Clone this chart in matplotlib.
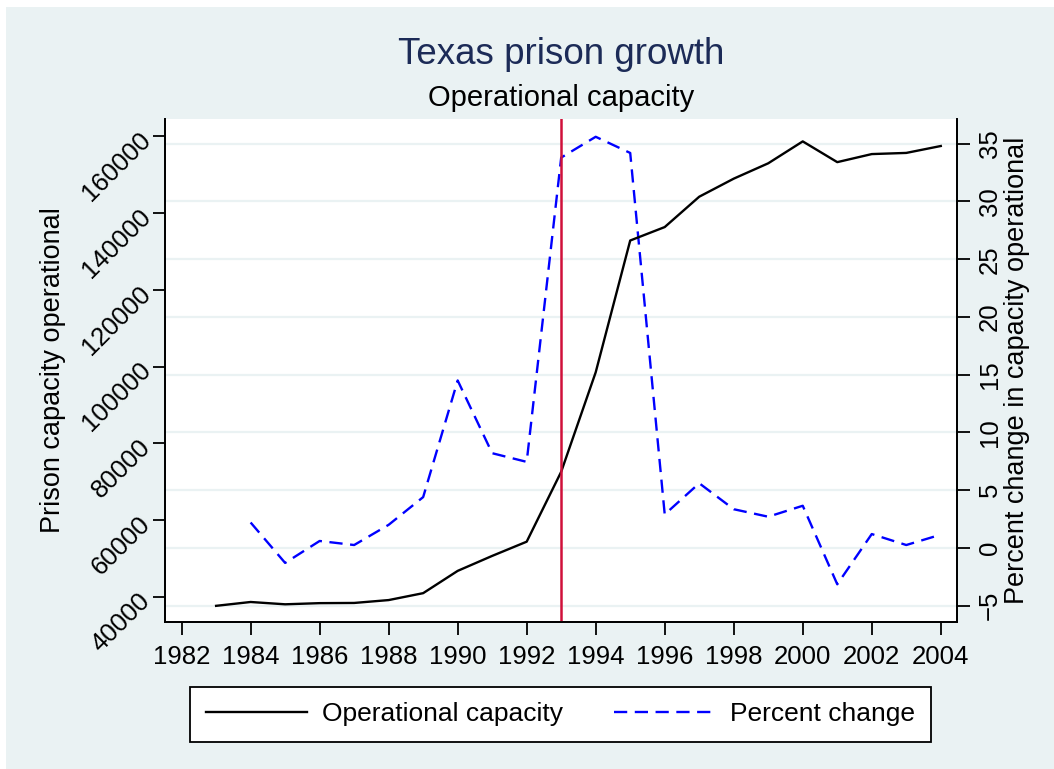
import numpy as np
import matplotlib
matplotlib.use('Agg')
import matplotlib.pyplot as plt
from matplotlib.patches import Rectangle

# values
YEARS = list(range(1983, 2005))
CAPACITY = [37700, 38700, 38100, 38400, 38450, 39200, 41000, 46800, 50700, 54400,
            72600, 98500, 132800, 136300, 144200, 148900, 152900, 158600, 153200,
            155300, 155600, 157400]
PCT_YEARS = list(range(1984, 2005))
PCT_CHANGE = [2.2, -1.3, 0.6, 0.25, 2.0, 4.4, 14.5, 8.2, 7.45, 33.8, 35.6, 34.2,
              2.9, 5.6, 3.35, 2.7, 3.65, -3.15, 1.2, 0.25, 1.15]
CUTOFF_YEAR = 1993

X_TICKS = list(range(1982, 2005, 2))
LEFT_TICKS = list(range(40000, 160001, 20000))
RIGHT_TICKS = list(range(-5, 36, 5))

BG = '#EAF2F3'
NAVY = '#1C2B57'

plt.rcParams.update({'font.family': ['Liberation Sans', 'DejaVu Sans']})

W, H = 1054, 769
fig = plt.figure(figsize=(W / 100, H / 100), dpi=100)
fig.patch.set_facecolor('white')
fig.patches.append(Rectangle((6 / W, 0), 1, 1 - 7 / H, transform=fig.transFigure,
                             facecolor=BG, edgecolor='none', zorder=-10))

rect = [164.7 / W, 1 - 621.7 / H, 792.3 / W, 502.7 / H]
ax2 = fig.add_axes(rect)          # right axis: grid, x axis, percent change
ax1 = ax2.twinx()                 # left axis drawn on top
ax1.yaxis.tick_left()
ax1.yaxis.set_label_position('left')
ax2.yaxis.tick_right()
ax2.yaxis.set_label_position('right')
ax1.set_zorder(ax2.get_zorder() + 1)
ax1.patch.set_visible(False)
ax2.set_facecolor('white')

ax2.plot(PCT_YEARS, PCT_CHANGE, color='#0000FF', lw=1.7, ls=(0, (5.6, 3.2)),
         label='Percent change')
ax1.plot(YEARS, CAPACITY, color='black', lw=1.7, label='Operational capacity')
ax1.axvline(CUTOFF_YEAR, color='#D0103A', lw=1.8)

ax2.set_xlim(1981.51, 2004.47)
ax1.set_ylim(33570, 164430)
ax2.set_ylim(-6.39, 37.14)

ax2.set_yticks(RIGHT_TICKS)
ax2.grid(axis='y', color=BG, lw=1.6)
ax2.set_axisbelow(True)
ax2.set_xticks(X_TICKS)
ax1.set_yticks(LEFT_TICKS)

for ax in (ax1, ax2):
    for s in ax.spines.values():
        s.set_linewidth(1.3)
    ax.spines['top'].set_visible(False)
    ax.tick_params(length=9, width=1.3, labelsize=18.5, colors='black')

ax2.tick_params(axis='x', pad=8)
ax1.tick_params(axis='y', pad=4)
plt.setp(ax1.get_yticklabels(), rotation=45, ha='right', va='center',
         rotation_mode='anchor')
ax2.tick_params(axis='y', pad=6)
plt.setp(ax2.get_yticklabels(), rotation=90, va='center', ha='left')

ax1.set_ylabel('Prison capacity operational', fontsize=19.5)
ax1.yaxis.set_label_coords(-0.124, 0.5)
ax2.set_ylabel('Percent change in capacity operational', fontsize=19.5)
ax2.yaxis.set_label_coords(1.0593, 0.5)

cx = (rect[0] + rect[2] / 2)
fig.text(cx, 1 - 55 / H, 'Texas prison growth', color=NAVY, fontsize=26.5,
         ha='center', va='center')
fig.text(cx, 1 - 98 / H, 'Operational capacity', color='black', fontsize=21,
         ha='center', va='center')

h1, l1 = ax1.get_legend_handles_labels()
h2, l2 = ax2.get_legend_handles_labels()
leg = fig.legend(h1 + h2, l1 + l2, loc='center', bbox_to_anchor=(560.5 / W, 1 - 714.5 / H),
                 ncol=2, fontsize=19, frameon=True, fancybox=False, edgecolor='black',
                 facecolor='white', framealpha=1, handlelength=3.8, handletextpad=0.6,
                 columnspacing=1.9, borderpad=0.6)
leg.get_frame().set_linewidth(1.3)

fig.savefig('out.png', dpi=100)
